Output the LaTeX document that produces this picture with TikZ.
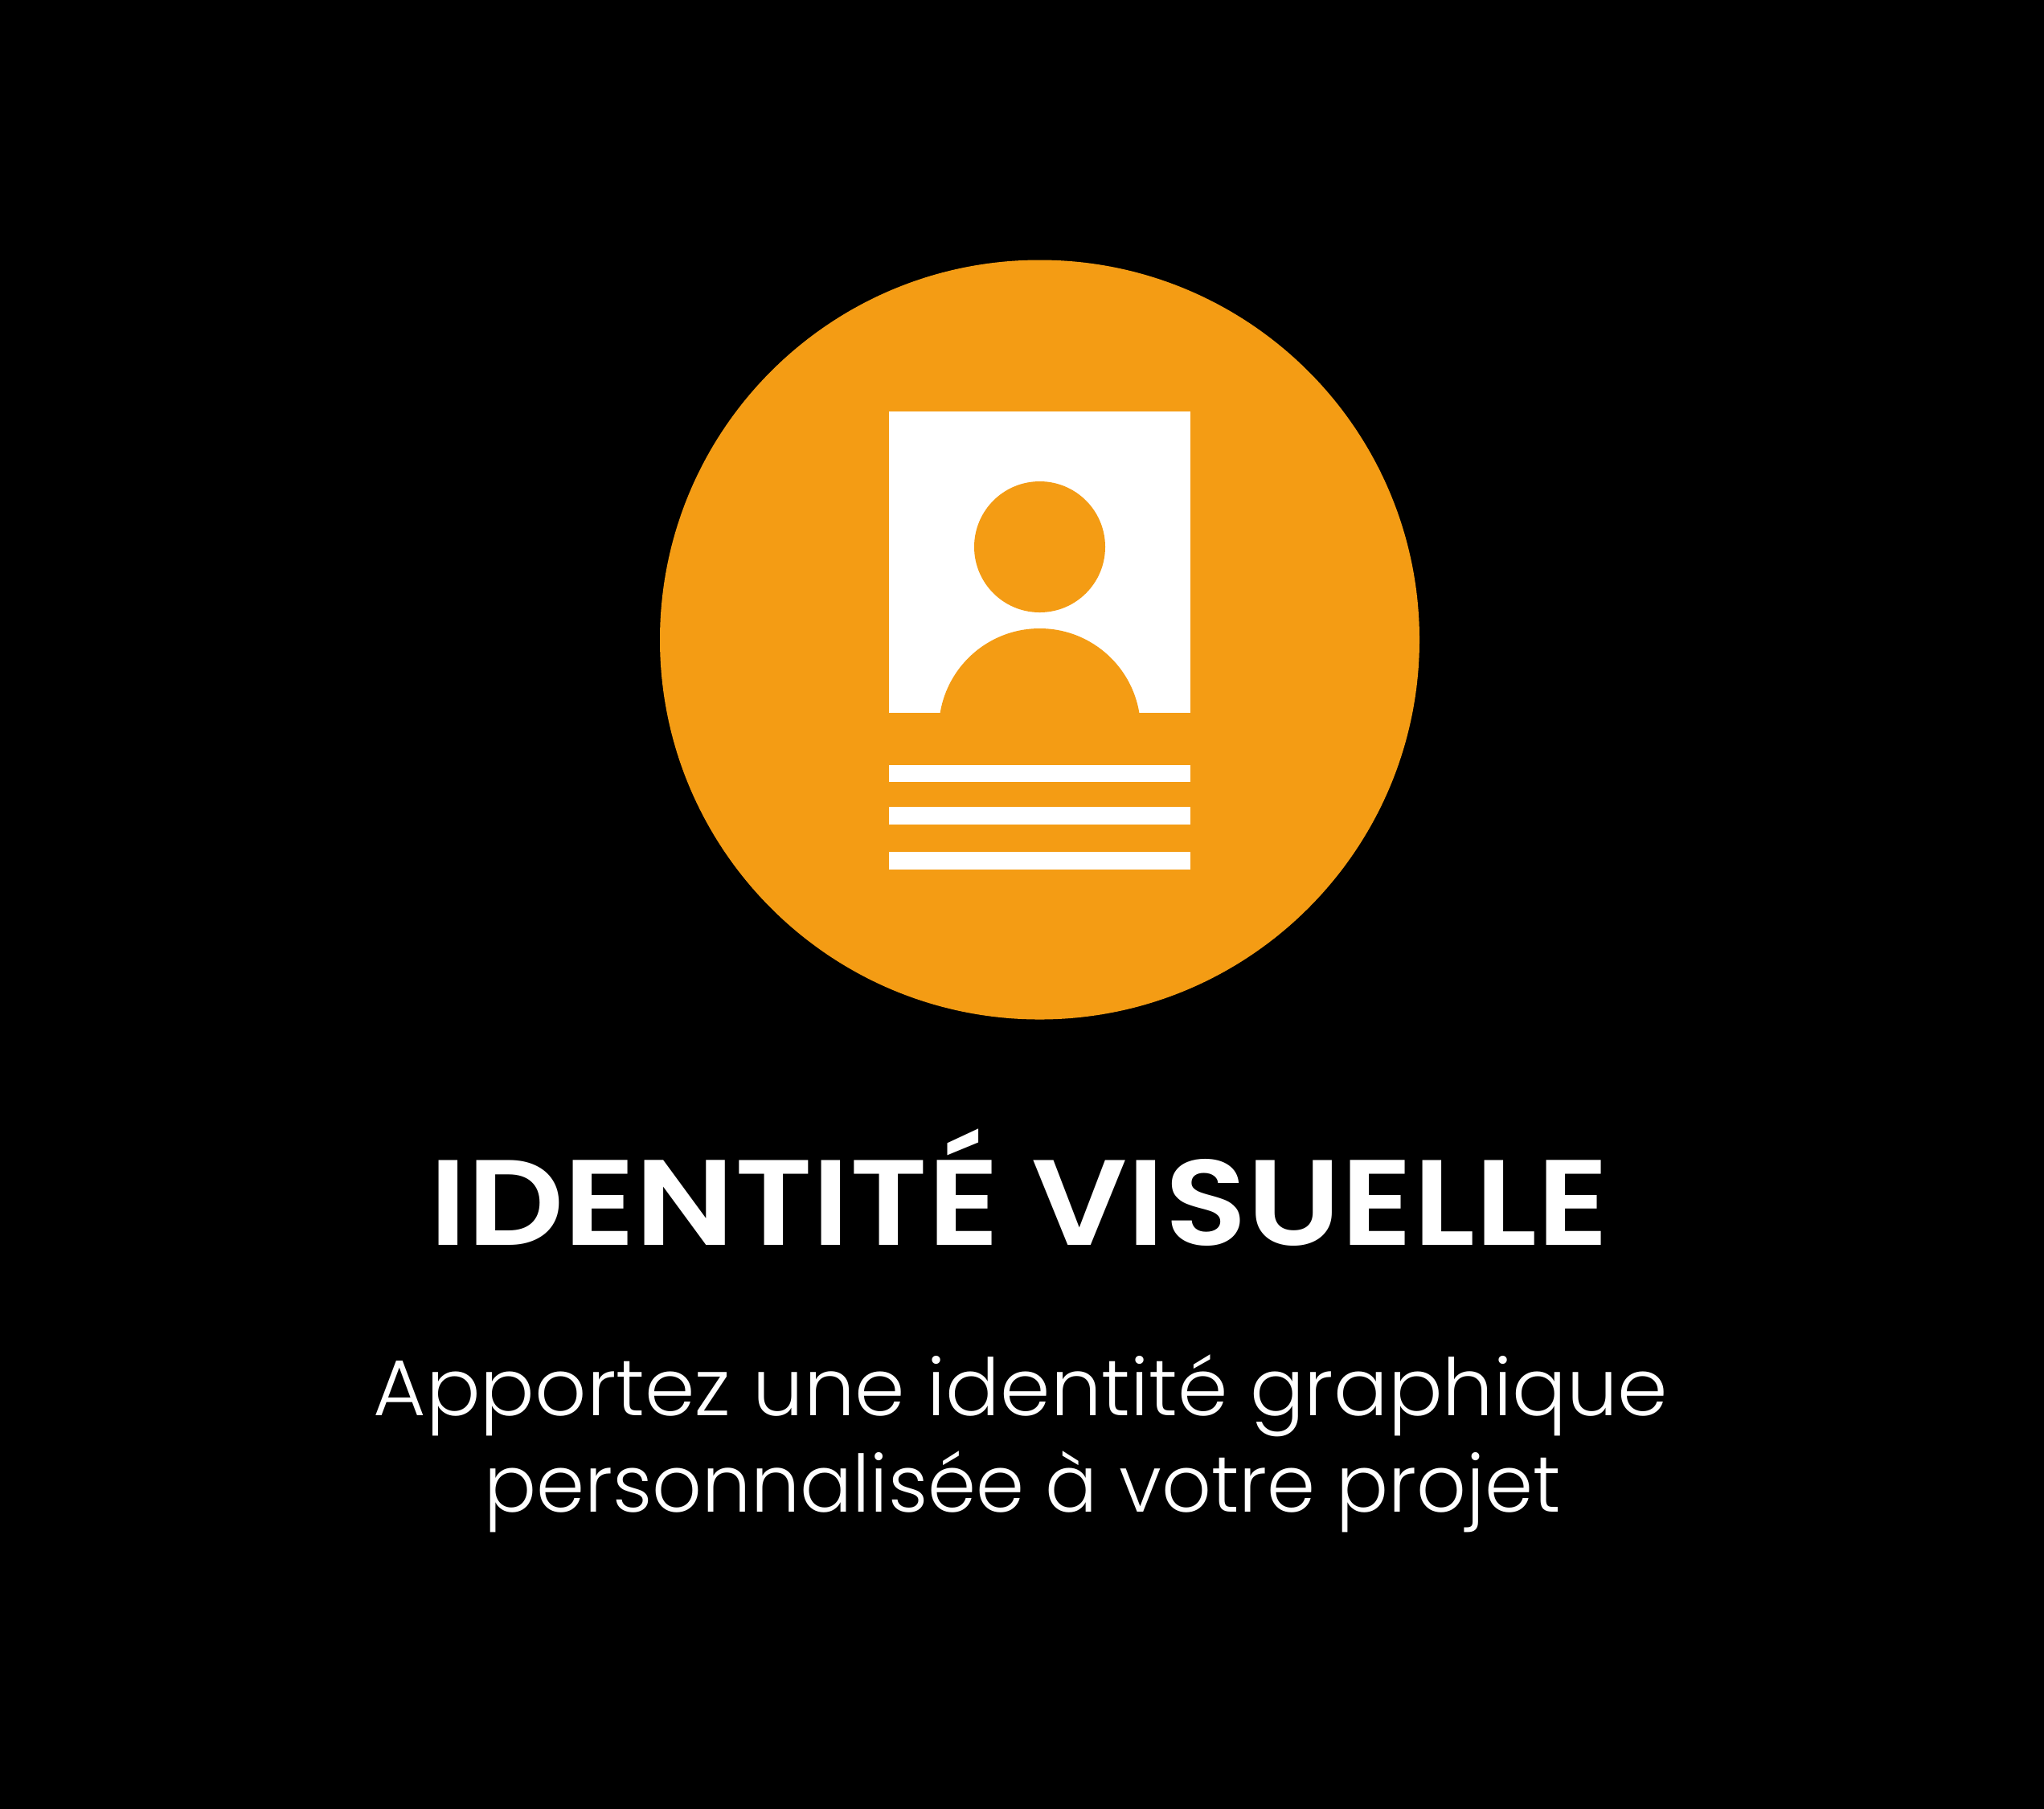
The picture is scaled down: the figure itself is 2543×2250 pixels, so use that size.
\documentclass[tikz,border=0pt]{standalone}
\usepackage{fontspec}
\setmainfont{Poppins}
\newfontfamily\titlefont{Poppins}[UprightFont=* SemiBold,FakeStretch=1.11]
\newfontfamily\bodyfont{Poppins}[UprightFont=* Light]
\definecolor{badge}{HTML}{F49C14}
\begin{document}
\begin{tikzpicture}[x=0.01cm,y=-0.01cm,
  lbl/.style={text=white,align=center,inner sep=0pt,anchor=base},
  body/.style={lbl,font=\bodyfont\fontsize{28}{34}\selectfont,transform shape},
  bar/.style={fill=white}]
\useasboundingbox (0,0) rectangle (2543,2250);
\fill[black] (-10,-10) rectangle (2553,2260);
\fill[badge] (1293.5,796) circle[radius=472.5];
% card
\fill[white] (1106,512) rectangle (1481,887);
\fill[badge] (1293.5,680.5) circle[radius=81.5];
\begin{scope}
\clip (1106,512) rectangle (1481,887);
\fill[badge] (1293.5,907.5) circle[radius=125.5];
\end{scope}
\fill[bar] (1106,951.5) rectangle (1481,973);
\fill[bar] (1106,1003.5) rectangle (1481,1025.5);
\fill[bar] (1106,1060) rectangle (1481,1082);
% text
\node[lbl,font=\titlefont\fontsize{43}{52}\selectfont] (title) at (1268,1549) {IDENTITÉ VISUELLE};
\node[body,xscale=1.02] (line1) at (1270,1761) {Apportez une identité graphique};
\node[body,xscale=0.98] (line2) at (1272,1881) {personnalisée à votre projet};
\end{tikzpicture}
\end{document}
